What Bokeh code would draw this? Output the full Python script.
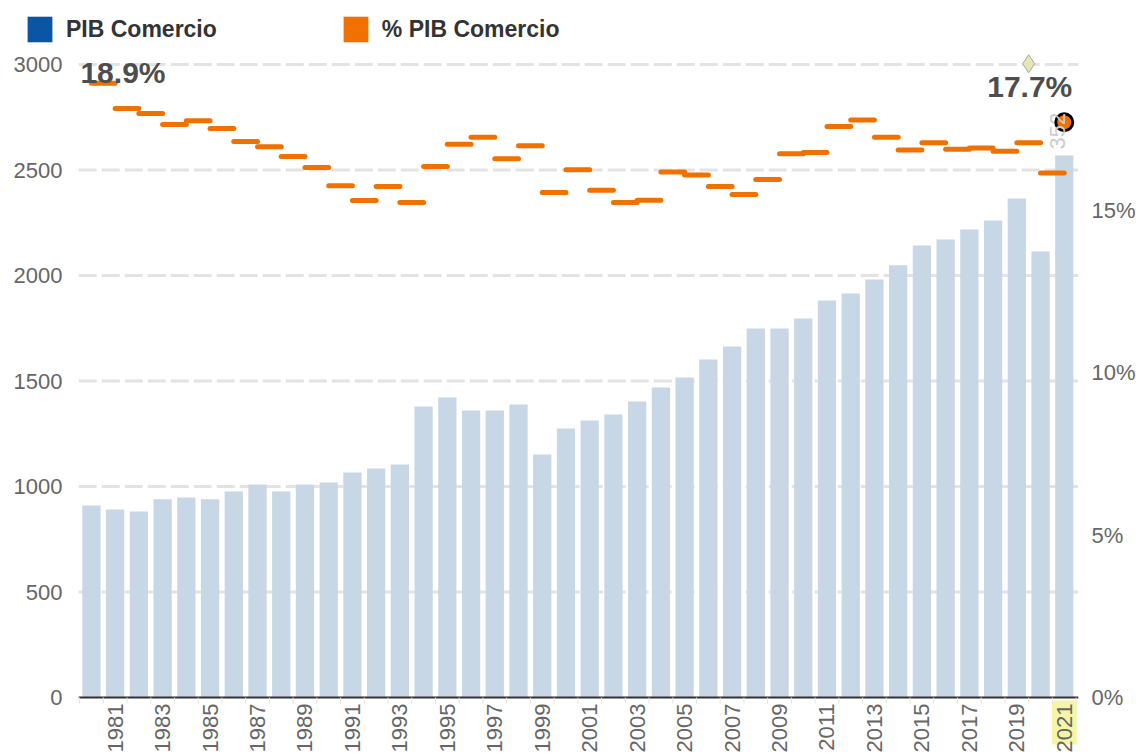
from math import pi
from bokeh.plotting import figure
from bokeh.models import Range1d, LinearAxis, FixedTicker, Legend, LegendItem
from bokeh.embed import file_html
from bokeh.resources import INLINE
from bokeh.core.properties import value

# ---------------- data ----------------
years = list(range(1980, 2022))
pib_comercio = [910, 891, 882, 939, 948, 939, 976, 1010, 976, 1010,
                1019, 1066, 1085, 1104, 1379, 1422, 1360, 1360, 1389, 1152,
                1275, 1313, 1341, 1403, 1469, 1517, 1602, 1664, 1749, 1749,
                1796, 1882, 1915, 1981, 2048, 2142, 2171, 2218, 2261, 2365,
                2114, 2569]
pct_pib_comercio = [18.9, 18.12, 17.97, 17.63, 17.75, 17.51, 17.11, 16.95, 16.65, 16.31,
                    15.75, 15.29, 15.72, 15.23, 16.34, 17.02, 17.24, 16.58, 16.98, 15.54,
                    16.24, 15.61, 15.23, 15.30, 16.17, 16.08, 15.72, 15.48, 15.94, 16.73,
                    16.77, 17.57, 17.77, 17.24, 16.85, 17.07, 16.87, 16.91, 16.81, 17.07,
                    16.14, 17.7]
left_ticks = [0, 500, 1000, 1500, 2000, 2500, 3000]
grid_values = [500, 1000, 1500, 2000, 2500, 3000]
pct_ticks = [0, 5, 10, 15]
pct_tick_labels = ["0%", "5%", "10%", "15%"]
year_ticks = list(range(1981, 2022, 2))
highlight_year = 2021
marker_year = 2019.5
marker_pct = 19.5
first_label = "18.9%"
last_label = "17.7%"
bar_value_label = "352"
series_names = ["PIB Comercio", "% PIB Comercio"]

# ---------------- style ----------------
FONT = "Liberation Sans"
BAR = "#c8d7e6"
ORANGE = "#f07000"
BLUE = "#0b56a4"
GRAY_TXT = "#666666"
W, H = 1138, 755
F_LEFT, F_RIGHT, F_TOP, F_BOTTOM = 11, 1079, 0, 744   # frame edges in px
BASE_PX = 697                                        # pixel row of value 0
PX_PER_YEAR = 23.75
U_PER_PX = 500 / 105.5      # left-axis units per pixel
P_PER_PX = 1 / 32.5         # percent units per pixel
X0_PX = 91                  # pixel column of the first year

x_start = years[0] - (X0_PX - F_LEFT) / PX_PER_YEAR
x_end = years[0] + (F_RIGHT - X0_PX) / PX_PER_YEAR
plot_x0 = years[0] - 0.535          # start of the plotting area (axis line)
y_lo = -(F_BOTTOM - BASE_PX) * U_PER_PX
y_hi = (BASE_PX - F_TOP) * U_PER_PX
p_lo = -(F_BOTTOM - BASE_PX) * P_PER_PX
p_hi = (BASE_PX - F_TOP) * P_PER_PX

p = figure(width=W, height=H, x_range=Range1d(x_start, x_end), y_range=Range1d(y_lo, y_hi),
           toolbar_location=None, output_backend="svg",
           min_border_left=F_LEFT, min_border_right=W - F_RIGHT,
           min_border_top=F_TOP, min_border_bottom=H - F_BOTTOM)
p.outline_line_color = None
p.background_fill_color = None
p.extra_y_ranges = {"pct": Range1d(p_lo, p_hi)}
p.xgrid.visible = False
p.ygrid.visible = False

# dashed horizontal grid lines, limited to the plotting area
p.segment(x0=[plot_x0] * len(grid_values), x1=[x_end] * len(grid_values),
          y0=grid_values, y1=grid_values, line_color="#e3e3e3", line_width=3,
          line_dash="18 5", level="underlay")

# highlight box behind the last year's tick label
p.rect(x=[highlight_year], y=[-(728 - BASE_PX) * U_PER_PX], width=25, height=56,
       width_units="screen", height_units="screen", fill_color="#f5f5a8", line_color=None,
       level="underlay")

p.vbar(x=years, top=pib_comercio, width=0.77, fill_color=BAR, line_color=None)

# baseline and small separators below it
p.segment(x0=[plot_x0], x1=[x_end], y0=[0], y1=[0], line_color="#333333", line_width=2)
seps = [y + 0.5 for y in range(1979, 2022)]
p.segment(x0=seps, x1=seps, y0=[0] * len(seps), y1=[-6 * U_PER_PX] * len(seps),
          line_color="#e3e3e3", line_width=1)

p.segment(x0=years[:-1], y0=pct_pib_comercio[:-1], x1=[y + 1 for y in years[:-1]],
          y1=pct_pib_comercio[:-1], line_color=ORANGE, line_width=5, line_cap="round",
          y_range_name="pct")
p.scatter(x=[years[-1]], y=[pct_pib_comercio[-1]], size=17, fill_color=ORANGE,
          line_color="black", line_width=3, y_range_name="pct")
p.scatter(x=[marker_year], y=[marker_pct], marker="diamond", size=18, fill_color="#e6e6b3",
          line_color="#a8a8a8", line_width=1, y_range_name="pct")

p.text(x=[years[-1]], y=[pib_comercio[-1]], text=[bar_value_label], angle=pi / 2,
       text_align="left", text_baseline="middle", x_offset=-7, y_offset=-6,
       text_font=value(FONT), text_font_size="22px", text_color="#cccccc")

p.text(x=[years[0]], y=[pct_pib_comercio[0]], text=[first_label], text_align="left",
       text_baseline="middle", x_offset=-11, y_offset=-11, text_font=value(FONT),
       text_font_style="bold", text_font_size="30px", text_color="#4d4d4d", y_range_name="pct")
p.text(x=[years[-1]], y=[pct_pib_comercio[-1]], text=[last_label], text_align="right",
       text_baseline="middle", x_offset=8, y_offset=-36, text_font=value(FONT),
       text_font_style="bold", text_font_size="30px", text_color="#4d4d4d", y_range_name="pct")

# legend (zero-height dummy bars carry the legend colours)
r_blue = p.vbar(x=[years[0]], top=[0], bottom=[0], width=0.5, fill_color=BLUE, line_color=None)
r_orange = p.vbar(x=[years[0]], top=[0], bottom=[0], width=0.5, fill_color=ORANGE, line_color=None)
lg = Legend(items=[LegendItem(label=series_names[0], renderers=[r_blue]),
                   LegendItem(label=series_names[1], renderers=[r_orange])],
            location=(24 - F_LEFT, F_BOTTOM - 45), orientation="horizontal",
            glyph_width=31, glyph_height=32, label_standoff=11, spacing=123,
            padding=0, margin=0, border_line_color=None, background_fill_alpha=0,
            label_text_font=FONT, label_text_font_style="bold", label_text_font_size="23px",
            label_text_color="#333333", label_height=32)
p.add_layout(lg, "center")

# left axis (labels sit just left of the plotting area)
la = p.yaxis[0]
la.ticker = FixedTicker(ticks=left_ticks)
la.axis_line_color = None
la.major_tick_line_color = None
la.minor_tick_line_color = None
la.major_tick_out = 0
la.major_tick_in = 0
la.major_label_standoff = -(62 - F_LEFT)
la.major_label_text_font = FONT
la.major_label_text_font_size = "22px"
la.major_label_text_color = GRAY_TXT

# right axis
ra = LinearAxis(y_range_name="pct", ticker=FixedTicker(ticks=pct_ticks),
                major_label_overrides=dict(zip(pct_ticks, pct_tick_labels)))
ra.axis_line_color = None
ra.major_tick_line_color = None
ra.minor_tick_line_color = None
ra.major_tick_out = 0
ra.major_tick_in = 0
ra.major_label_standoff = 13
ra.major_label_text_font = FONT
ra.major_label_text_font_size = "22px"
ra.major_label_text_color = GRAY_TXT
p.add_layout(ra, "right")

# bottom axis (labels hang just below the baseline)
xa = p.xaxis[0]
xa.ticker = FixedTicker(ticks=year_ticks)
xa.major_label_orientation = pi / 2
xa.axis_line_color = None
xa.major_tick_line_color = None
xa.minor_tick_line_color = None
xa.major_tick_out = 0
xa.major_tick_in = 0
xa.minor_tick_out = 0
xa.major_label_standoff = 703 - F_BOTTOM
xa.major_label_text_font = FONT
xa.major_label_text_font_size = "22px"
xa.major_label_text_color = GRAY_TXT

open("out.html", "w").write(file_html(p, INLINE))
